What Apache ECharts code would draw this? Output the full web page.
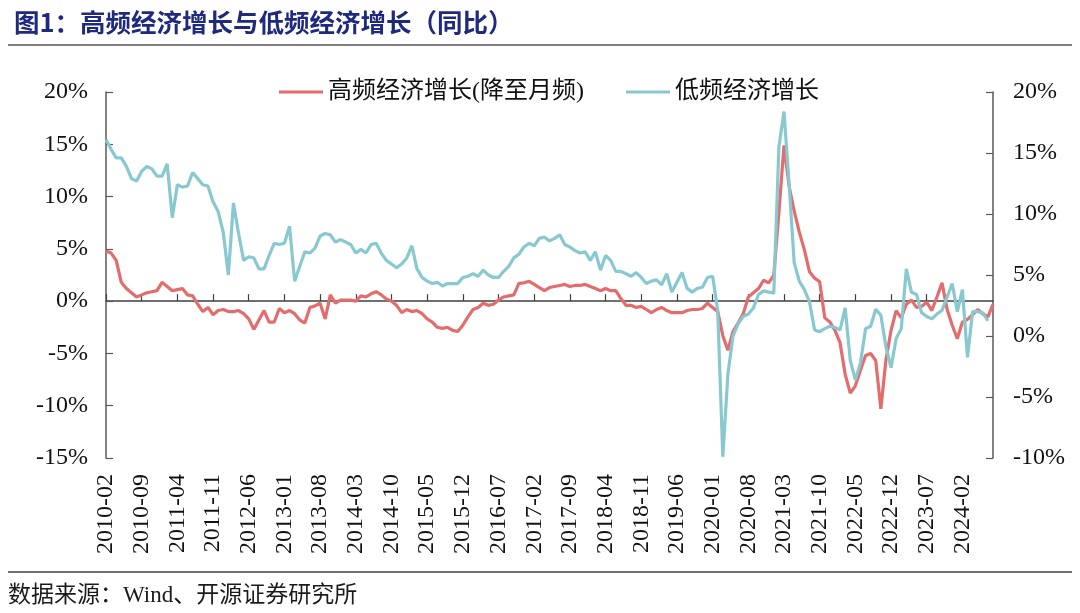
<!DOCTYPE html>
<html>
<head>
<meta charset="utf-8">
<script src="https://cdn.jsdelivr.net/npm/echarts@6/dist/echarts.min.js"></script>
<style>
html,body{margin:0;padding:0;background:#fff;}
#c{width:1080px;height:613px;}
</style>
</head>
<body>
<div id="c"></div>
<script>
// Monthly categories: 2010-02 .. 2024-08
const startYear = 2010, startMonth = 2, monthCount = 175;
const categories = [];
for (let k = 0; k < monthCount; k++) {
  const m = startMonth - 1 + k;
  const y = startYear + Math.floor(m / 12);
  const mm = (m % 12) + 1;
  categories.push(y + '-' + (mm < 10 ? '0' + mm : mm));
}

const seriesNames = ['高频经济增长(降至月频)', '低频经济增长'];

// 高频经济增长(降至月频), %, left axis
const highFreq = [
  4.8, 4.6, 3.9, 1.8, 1.2, 0.8, 0.4, 0.6, 0.8, 0.9,
  1.0, 1.8, 1.4, 1.0, 1.1, 1.2, 0.6, 0.5, -0.3, -1.0,
  -0.6, -1.3, -0.9, -0.8, -1.0, -1.0, -0.9, -1.2, -1.7, -2.7,
  -1.8, -0.9, -2.0, -2.0, -0.7, -1.1, -0.9, -1.2, -1.8, -2.1,
  -0.6, -0.45, -0.2, -1.7, 0.6, -0.2, 0.1, 0.1, 0.1, 0.0,
  0.5, 0.4, 0.7, 0.9, 0.6, 0.2, 0.0, -0.4, -1.1, -0.8,
  -1.0, -0.9, -1.2, -1.7, -2.0, -2.5, -2.6, -2.5, -2.8, -2.9,
  -2.3, -1.5, -0.8, -0.6, -0.2, -0.4, -0.3, 0.1, 0.4, 0.5,
  0.6, 1.7, 1.75, 1.9, 1.6, 1.3, 1.0, 1.3, 1.4, 1.5,
  1.6, 1.4, 1.5, 1.5, 1.6, 1.4, 1.2, 1.0, 1.2, 1.0,
  1.0, 0.25, -0.4, -0.4, -0.6, -0.5, -0.8, -1.1, -0.8, -0.6,
  -0.9, -1.1, -1.1, -1.1, -0.9, -0.8, -0.8, -0.7, -0.2, -0.6,
  -1.0, -3.3, -4.7, -2.9, -2.1, -1.2, 0.4, 0.8, 1.2, 2.0,
  1.75, 2.5, 8.5, 14.9, 11.0, 8.6, 6.6, 4.9, 2.8, 2.2,
  1.85, -1.6, -2.0, -2.8, -4.0, -7.0, -8.8, -8.1, -6.6, -5.2,
  -5.0, -5.7, -10.3, -5.6, -2.8, -0.9, -1.6, -0.3, 0.1, -0.6,
  -0.5, -0.1, -0.9, 0.4, 1.75, -0.8, -2.3, -3.6, -2.0, -1.75,
  -1.3, -0.8, -1.2, -1.5, -0.3
];

// 低频经济增长, %, right axis
const lowFreq = [
  16.1, 15.3, 14.6, 14.6, 13.9, 12.9, 12.7, 13.5, 13.9, 13.7,
  13.1, 13.1, 14.1, 9.7, 12.4, 12.2, 12.3, 13.4, 12.9, 12.4,
  12.3, 11.0, 10.2, 8.5, 5.0, 10.9, 8.4, 6.2, 6.5, 6.4,
  5.5, 5.5, 6.6, 7.6, 7.5, 7.6, 9.0, 4.5, 5.7, 6.9,
  6.8, 7.2, 8.2, 8.4, 8.3, 7.7, 7.9, 7.7, 7.5, 6.8,
  7.1, 6.8, 7.5, 7.6, 6.8, 6.2, 5.9, 5.6, 5.9, 6.4,
  7.4, 5.5, 4.8, 4.5, 4.3, 4.4, 4.1, 4.3, 4.3, 4.3,
  4.8, 4.9, 5.1, 4.9, 5.4, 5.0, 4.8, 4.8, 5.3, 5.7,
  6.4, 6.7, 7.3, 7.6, 7.4, 8.0, 8.1, 7.8, 8.0, 8.3,
  7.5, 7.3, 7.0, 6.8, 6.9, 6.2, 6.9, 5.4, 6.6, 6.2,
  5.3, 5.3, 5.1, 4.9, 5.2, 4.8, 4.3, 4.5, 4.6, 4.2,
  5.1, 3.6, 4.4, 5.2, 3.9, 3.6, 3.9, 4.0, 4.8, 4.9,
  2.1, -9.9, -3.1, 0.0, 1.0, 1.6, 1.8, 2.3, 3.4, 3.7,
  3.6, 3.5, 15.5, 18.4, 12.5, 6.0, 4.5, 3.8, 2.8, 0.5,
  0.35, 0.6, 0.8, 0.7, 0.5, 2.3, -2.0, -3.6, -2.2, 0.6,
  0.8, 2.2, 1.7, -0.9, -2.6, -0.2, 0.6, 5.5, 3.6, 3.4,
  1.9, 1.6, 1.4, 1.8, 2.1, 3.2, 4.3, 2.0, 3.8, -1.75,
  2.0, 2.0, 1.9, 1.25, null
];

const leftTicks = { min: -15, max: 20, interval: 5 };
const rightTicks = { min: -10, max: 20, interval: 5 };

const RED = '#E36C6C';
const CYAN = '#88C8CF';
const AXIS = '#404040';
const SERIF = '"Liberation Serif", "Times New Roman", "Noto Sans CJK SC", serif';
const CJK = '"Noto Sans CJK SC", "Liberation Serif", sans-serif';

const chart = echarts.init(document.getElementById('c'), null, { renderer: 'canvas' });

chart.setOption({
  backgroundColor: '#ffffff',
  animation: false,
  title: {
    text: '图1：高频经济增长与低频经济增长（同比）',
    left: 9, top: 5,
    textStyle: { color: '#1F2A7E', fontSize: 25.5, fontWeight: 'bold', fontFamily: CJK }
  },
  graphic: [
    { type: 'line', shape: { x1: 8, y1: 45, x2: 1072, y2: 45 }, style: { stroke: '#7F7F7F', lineWidth: 2 } },
    { type: 'line', shape: { x1: 8, y1: 572, x2: 1072, y2: 572 }, style: { stroke: '#404040', lineWidth: 1.5 } },
    { type: 'text', left: 8, top: 584,
      style: { text: '数据来源：Wind、开源证券研究所', fill: '#1a1a1a', font: '23px ' + SERIF } }
  ],
  legend: {
    left: 274, top: 75,
    itemWidth: 44, itemHeight: 3, itemGap: 42,
    icon: 'rect',
    textStyle: { fontSize: 24, color: '#111', fontFamily: SERIF },
    data: seriesNames
  },
  grid: { left: 106, right: 87, top: 92, bottom: 155, containLabel: false },
  xAxis: [
    {
      type: 'category', data: categories, boundaryGap: false, position: 'bottom',
      axisLine: { show: false, onZero: false },
      axisTick: { show: false },
      axisLabel: { interval: 6, rotate: 90, margin: 16, color: '#111', fontSize: 24, fontFamily: SERIF }
    },
    {
      type: 'category', data: categories, boundaryGap: false, position: 'bottom',
      axisLine: { show: true, onZero: true, onZeroAxisIndex: 0, lineStyle: { color: AXIS, width: 1.5 } },
      axisTick: { show: true, inside: true, interval: 6, length: 7, lineStyle: { color: AXIS, width: 1.2 } },
      axisLabel: { show: false }
    }
  ],
  yAxis: [
    {
      type: 'value', position: 'left', min: leftTicks.min, max: leftTicks.max, interval: leftTicks.interval,
      axisLine: { show: true, onZero: false, lineStyle: { color: '#595959', width: 1.5 } },
      axisTick: { show: true, inside: true, length: 7, lineStyle: { color: '#595959', width: 1.2 } },
      splitLine: { show: false },
      axisLabel: { formatter: '{value}%', margin: 18, color: '#111', fontSize: 24, fontFamily: SERIF }
    },
    {
      type: 'value', position: 'right', min: rightTicks.min, max: rightTicks.max, interval: rightTicks.interval,
      axisLine: { show: true, onZero: false, lineStyle: { color: '#595959', width: 1.5 } },
      axisTick: { show: true, inside: true, length: 7, lineStyle: { color: '#595959', width: 1.2 } },
      splitLine: { show: false },
      axisLabel: { formatter: '{value}%', margin: 20, color: '#111', fontSize: 24, fontFamily: SERIF }
    }
  ],
  series: [
    {
      name: seriesNames[0], type: 'line', xAxisIndex: 0, yAxisIndex: 0, data: highFreq,
      symbol: 'none', smooth: false,
      lineStyle: { color: RED, width: 3.2 }, itemStyle: { color: RED }
    },
    {
      name: seriesNames[1], type: 'line', xAxisIndex: 0, yAxisIndex: 1, data: lowFreq,
      symbol: 'none', smooth: false,
      lineStyle: { color: CYAN, width: 3.2 }, itemStyle: { color: CYAN }
    }
  ]
});
</script>
</body>
</html>
